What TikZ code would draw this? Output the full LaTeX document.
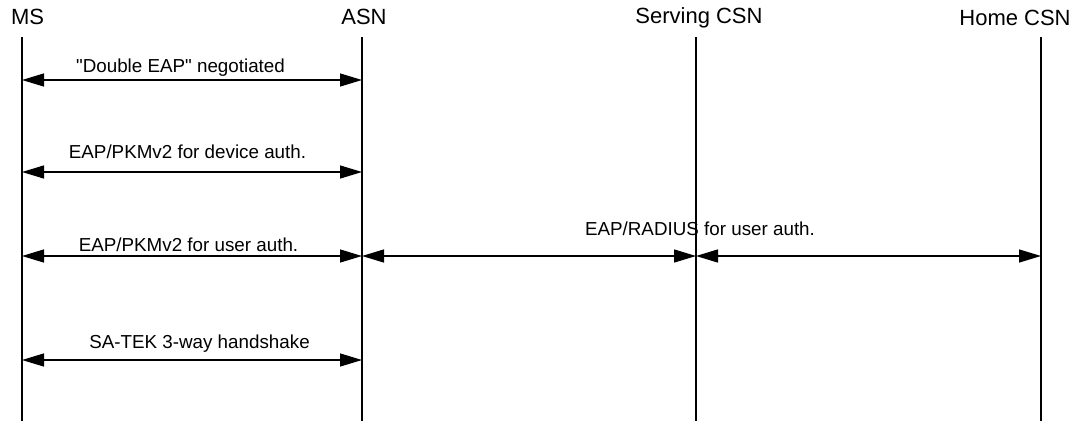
\documentclass[tikz,border=0pt]{standalone}
\usepackage{fontspec}
\setmainfont{Liberation Sans}
\usetikzlibrary{arrows.meta}
\begin{document}
\begin{tikzpicture}[x=1pt,y=-1pt,
  hdr/.style={anchor=base,inner sep=0pt,font=\fontsize{22}{26}\selectfont},
  lbl/.style={anchor=base,inner sep=0pt,font=\fontsize{18.8}{22}\selectfont},
  life/.style={line width=1.4pt,black},
  msg/.style={line width=1.3pt,black,{Triangle[length=22pt,width=13pt]}-{Triangle[length=22pt,width=13pt]}}]
\useasboundingbox (0,0) rectangle (1084,421);
% headers
\node[hdr] (hms) at (27.5,24) {MS};
\node[hdr] (hasn) at (364,24) {ASN};
\node[hdr] (hscsn) at (699,23) {Serving CSN};
\node[hdr] (hhcsn) at (1015,25) {Home CSN};
% lifeline ends
\coordinate (msT) at (22,37);   \coordinate (msB) at (22,421);
\coordinate (asnT) at (362,37); \coordinate (asnB) at (362,421);
\coordinate (scT) at (696,37);  \coordinate (scB) at (696,421);
\coordinate (hcT) at (1041,37); \coordinate (hcB) at (1041,421);
\draw[life] (msT) -- (msB);
\draw[life] (asnT) -- (asnB);
\draw[life] (scT) -- (scB);
\draw[life] (hcT) -- (hcB);
% message anchor points
\coordinate (ms1) at (22,80);   \coordinate (asn1) at (362,80);
\coordinate (ms2) at (22,172);  \coordinate (asn2) at (362,172);
\coordinate (ms3) at (22,256);  \coordinate (asn3) at (362,256);
\coordinate (sc3) at (696,256); \coordinate (hc3) at (1041,256);
\coordinate (ms4) at (22,360);  \coordinate (asn4) at (362,360);
% messages
\draw[msg] (ms1) -- (asn1);
\node[lbl] (l1) at (180.5,72) {\textquotedbl Double EAP\textquotedbl{} negotiated};
\draw[msg] (ms2) -- (asn2);
\node[lbl] (l2) at (187.5,158) {EAP/PKMv2 for device auth.};
\draw[msg] (ms3) -- (asn3);
\node[lbl] (l3) at (188.5,251) {EAP/PKMv2 for user auth.};
\draw[msg] (asn3) -- (sc3);
\draw[msg] (sc3) -- (hc3);
\node[lbl] (l4) at (700,235) {EAP/RADIUS for user auth.};
\draw[msg] (ms4) -- (asn4);
\node[lbl] (l5) at (199.5,348) {SA-TEK 3-way handshake};
\end{tikzpicture}
\end{document}
